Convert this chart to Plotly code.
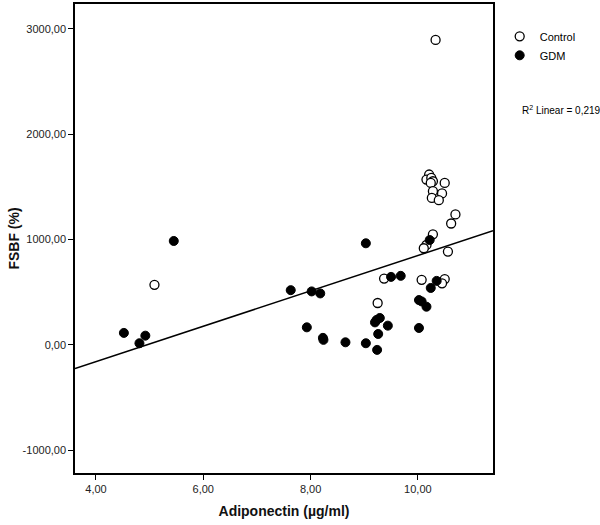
import plotly.graph_objects as go

# Control group (open circles)
control_x = [10.33, 10.21, 10.16, 10.25, 10.28, 10.24, 10.50, 10.28, 10.45, 10.26,
             10.39, 10.70, 10.62, 10.28, 10.16, 10.11, 10.56, 10.07, 10.50, 10.45,
             9.37, 9.25, 5.09]
control_y = [2895, 1617, 1569, 1585, 1553, 1537, 1537, 1459, 1437, 1395,
             1373, 1238, 1152, 1049, 948, 917, 885, 617, 624, 584,
             629, 397, 570]

# GDM group (filled circles)
gdm_x = [5.45, 4.52, 4.92, 4.81, 7.63, 8.02, 8.18, 9.03, 9.50, 9.68,
         10.22, 10.35, 10.24, 10.02, 10.07, 10.16, 10.02, 9.23, 9.29, 9.20,
         9.44, 9.26, 7.93, 8.23, 8.24, 8.65, 9.03, 9.24]
gdm_y = [986, 113, 87, 15, 519, 507, 488, 964, 645, 655,
         995, 607, 540, 425, 412, 362, 160, 236, 255, 213,
         182, 103, 166, 66, 47, 24, 15, -48]

# Linear fit
fit_slope = 168.0
fit_intercept = -832.0
r2_text = "R<sup>2</sup> Linear = 0,219"

x_range = [3.609, 11.40]
y_range = [-1217, 3236]

x_tickvals = [4, 6, 8, 10]
x_ticktext = ["4,00", "6,00", "8,00", "10,00"]
y_tickvals = [-1000, 0, 1000, 2000, 3000]
y_ticktext = ["-1000,00", "0,00", "1000,00", "2000,00", "3000,00"]

fit_x = x_range
fit_y = [fit_intercept + fit_slope * v for v in fit_x]

FONT = "Liberation Sans, Arial"

fig = go.Figure()
fig.add_trace(go.Scatter(
    x=fit_x, y=fit_y, mode="lines", line=dict(color="black", width=1.5),
    showlegend=False, hoverinfo="skip"))
fig.add_trace(go.Scatter(
    x=control_x, y=control_y, mode="markers", name="Control",
    marker=dict(symbol="circle", size=9, color="white",
                line=dict(color="black", width=1.3))))
fig.add_trace(go.Scatter(
    x=gdm_x, y=gdm_y, mode="markers", name="GDM",
    marker=dict(symbol="circle", size=9, color="black",
                line=dict(color="black", width=1))))

fig.add_annotation(
    text=r2_text, xref="paper", yref="paper", x=1.065, y=0.773,
    xanchor="left", yanchor="middle", showarrow=False,
    font=dict(family=FONT, size=10, color="black"))

axis_common = dict(
    showline=True, linecolor="black", linewidth=1.5, mirror=True,
    ticks="outside", ticklen=5, tickcolor="black", tickwidth=1.2,
    showgrid=False, zeroline=False,
    tickfont=dict(family=FONT, size=11, color="#222"))

fig.update_layout(
    width=600, height=525,
    margin=dict(l=75, r=107, t=2, b=52),
    paper_bgcolor="white", plot_bgcolor="white",
    xaxis=dict(range=x_range, tickvals=x_tickvals, ticktext=x_ticktext,
               title=dict(text="<b>Adiponectin (µg/ml)</b>", standoff=12,
                          font=dict(family=FONT, size=14, color="#111")),
               **axis_common),
    yaxis=dict(range=y_range, tickvals=y_tickvals, ticktext=y_ticktext,
               title=dict(text="<b>FSBF (%)</b>", standoff=0,
                          font=dict(family=FONT, size=14, color="#111")),
               **axis_common),
    legend=dict(x=1.016, y=0.962, xanchor="left", yanchor="top",
                font=dict(family=FONT, size=11, color="black"),
                tracegroupgap=0, itemwidth=30, bgcolor="rgba(0,0,0,0)"),
    showlegend=True,
)

fig.write_html("out.html", config={"displayModeBar": False},
               post_script="document.body.style.margin='0';")
